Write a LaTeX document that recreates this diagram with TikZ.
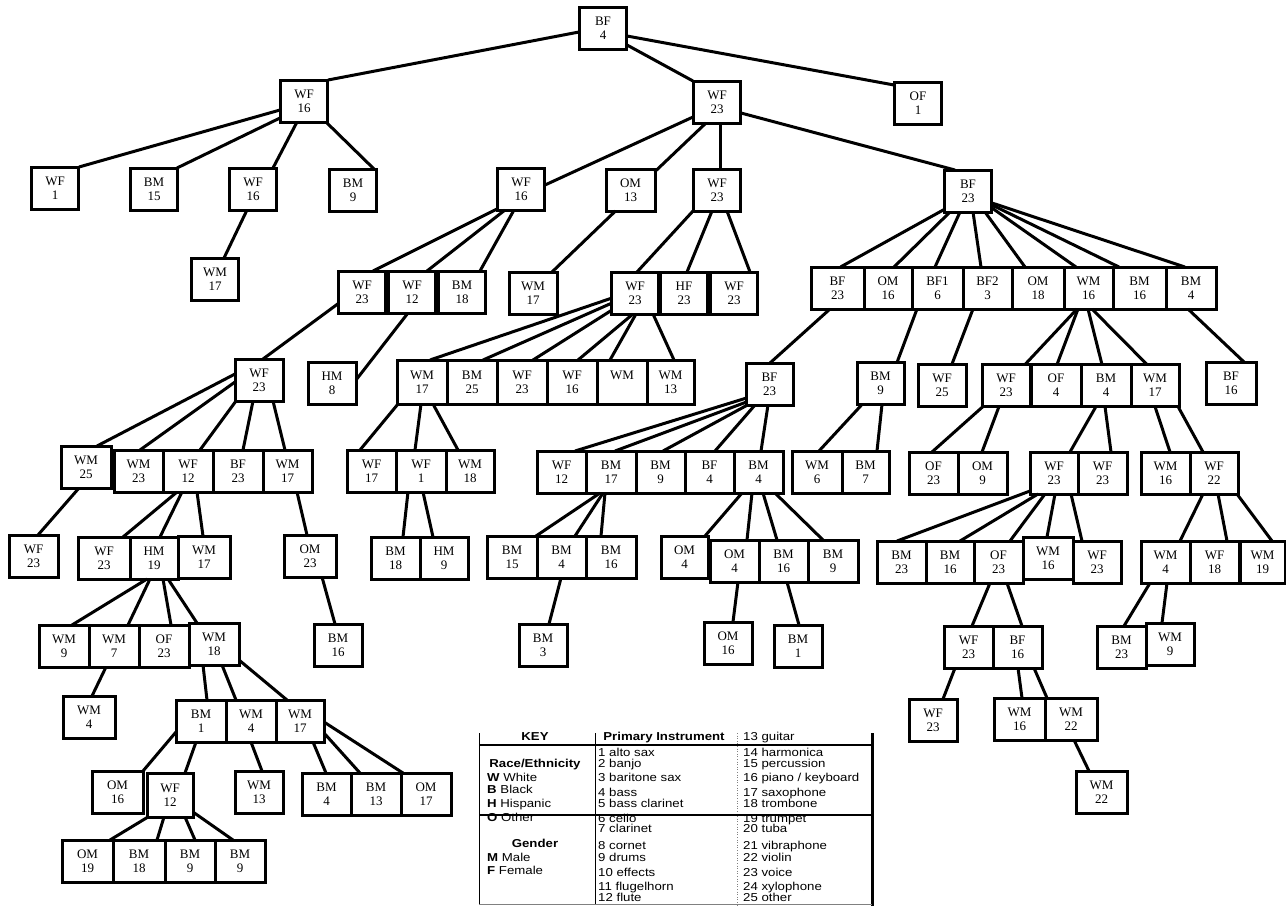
\documentclass[tikz,border=0pt]{standalone}
\usepackage{fontspec}
\setmainfont{Liberation Serif}
\newfontfamily\keyfont[FakeStretch=1.15]{Liberation Sans}
\usetikzlibrary{calc}
\tikzset{
  box/.style={draw, line width=3pt, minimum width=47pt, minimum height=42pt, inner sep=0pt,
    align=center, fill=white, font=\fontsize{13}{14}\selectfont},
  edge/.style={line width=3pt},
  keytxt/.style={anchor=base west, inner sep=0pt, font=\keyfont\fontsize{11.5}{12}\selectfont},
  keyhead/.style={anchor=base, inner sep=0pt, font=\keyfont\bfseries\fontsize{11.5}{12}\selectfont}
}
\newcommand\bx[5][47]{\node[box, minimum width=#1pt] (#2) at (#3) {#4\\#5};}
\newcommand\bxh[5][47]{\node[box, minimum width=#1pt, minimum height=44pt] (#2) at (#3) {#4\\#5};}
\newcommand\E[6]{\draw[edge] ($(#1)+(#2,#3)$) -- ($(#4)+(#5,#6)$);}
\begin{document}
\begin{tikzpicture}[x=1pt,y=-1pt]
\useasboundingbox (0,0) rectangle (1286,906);
% ---------- nodes ----------
\bx{n0}{603,28}{BF}{4}
\bx{a}{304,101}{WF}{16}
\bx{b}{717,102}{WF}{23}
\bx{c}{918,103}{OF}{1}
\bx{a1}{55,188}{WF}{1}
\bx{a2}{154,189}{BM}{15}
\bx{a3}{253,189}{WF}{16}
\bx{a4}{353,190}{BM}{9}
\bx{a3a}{215,279}{WM}{17}
\bx{b1}{521,189}{WF}{16}
\bx[49]{b2}{630.5,190}{OM}{13}
\bx{b3}{717,190}{WF}{23}
\bx{b4}{968,191}{BF}{23}
\bx{b1a}{362,292}{WF}{23}
\bx{b1b}{412,292}{WF}{12}
\bx{b1c}{462,292}{BM}{18}
\bx[48]{b2a}{533,293}{WM}{17}
\bx{b3a}{635,293}{WF}{23}
\bx{b3b}{684,293}{HF}{23}
\bx{b3c}{734,293}{WF}{23}
\bx[53]{b4a}{837.5,288}{BF}{23}
\bx[48]{b4b}{888,288}{OM}{16}
\bx[51]{b4c}{937.5,288}{BF1}{6}
\bx[49]{b4d}{987.5,288}{BF2}{3}
\bx[52]{b4e}{1038,288}{OM}{18}
\bx[49]{b4f}{1088.5,288}{WM}{16}
\bx[53]{b4g}{1139.5,288}{BM}{16}
\bx[50]{b4h}{1191,288}{BM}{4}
% L4
\bx[48]{b1a1}{259,380}{WF}{23}
\bx[48]{b1b1}{332,383}{HM}{8}
\bxh[50]{b3a1}{422,382}{WM}{17}
\bxh[50]{b3a2}{472,382}{BM}{25}
\bxh[50]{b3a3}{522,382}{WF}{23}
\bxh[50]{b3a4}{572,382}{WF}{16}
\bxh[50]{b3a5}{622,382}{WM}{\phantom{1}}
\bxh[47]{b3a6}{670.5,382}{WM}{13}
\bx{b4a1}{769.5,384}{BF}{23}
\bx{b4c1}{880.5,383.5}{BM}{9}
\bx[48]{b4d1}{942,385}{WF}{25}
\bx[48]{b4f1}{1006,385.5}{WF}{23}
\bx[50]{b4f2}{1056,385.5}{OF}{4}
\bx[50]{b4f3}{1106,385.5}{BM}{4}
\bx[48]{b4f4}{1155,385.5}{WM}{17}
\bx[50]{b4h1}{1231,383}{BF}{16}
% L5
\bx[50]{b1a1a}{86,467}{WM}{25}
\bx[49]{b1a1b}{138.5,471}{WM}{23}
\bx[50]{b1a1c}{188,471}{WF}{12}
\bx[50]{b1a1d}{238,471}{BF}{23}
\bx[49]{b1a1e}{287.5,471}{WM}{17}
\bx[49]{b3a1a}{371.5,471}{WF}{17}
\bx[50]{b3a1b}{421,471}{WF}{1}
\bx[48]{b3a1c}{470,471}{WM}{18}
\bx[49]{b4a1a}{561.5,472}{WF}{12}
\bx[50]{b4a1b}{611,472}{BM}{17}
\bx[49]{b4a1c}{660.5,472}{BM}{9}
\bx[49]{b4a1d}{709.5,472}{BF}{4}
\bx[49]{b4a1e}{758.5,472}{BM}{4}
\bx[50]{b4c1a}{817,472}{WM}{6}
\bx[47]{b4c1b}{865.5,472}{BM}{7}
\bx[49]{b4f1a}{933.5,473}{OF}{23}
\bx[49]{b4f1b}{982.5,473}{OM}{9}
\bx[48]{b4f3a}{1054,473}{WF}{23}
\bx[49]{b4f3b}{1102.5,473}{WF}{23}
\bx[49]{b4f4a}{1165.5,473}{WM}{16}
\bx[48]{b4f4b}{1214,473}{WF}{22}
% L6
\bx[49]{b1a1a1}{33.5,556}{WF}{23}
\bx[52]{b1a1c1}{104,558}{WF}{23}
\bx[48]{b1a1c2}{154,558}{HM}{19}
\bx[52]{b1a1c3}{204,557}{WM}{17}
\bx[52]{b1a1e1}{310,556}{OM}{23}
\bx[49]{b3a1b1}{395.5,558}{BM}{18}
\bx[48]{b3a1b2}{444,558}{HM}{9}
\bx[50]{b4a1b1}{512,557}{BM}{15}
\bx[49]{b4a1b2}{561.5,557}{BM}{4}
\bx[50]{b4a1b3}{611,557}{BM}{16}
\bx[47]{b4a1e1}{684.5,557}{OM}{4}
\bx[49]{b4a1e2}{734.5,561}{OM}{4}
\bx[49]{b4a1e3}{783.5,561}{BM}{16}
\bx[50]{b4a1e4}{833,561}{BM}{9}
\bx[49]{b4f3a1}{901.5,562}{BM}{23}
\bx[48]{b4f3a2}{950,562}{BM}{16}
\bx[49]{b4f3a3}{998.5,562}{OF}{23}
\bx[50]{b4f3a4}{1048,558}{WM}{16}
\bx[48]{b4f3a5}{1097,562}{WF}{23}
\bx[49]{b4f4b1}{1165.5,562}{WM}{4}
\bx[49]{b4f4b2}{1214.5,562}{WF}{18}
\bx[45]{b4f4b3}{1262.5,562}{WM}{19}
% L7
\bx[50]{b1a1c2a}{64,646}{WM}{9}
\bx[50]{b1a1c2b}{114,646}{WM}{7}
\bx[50]{b1a1c2c}{164,646}{OF}{23}
\bx[50]{b1a1c2d}{214,644}{WM}{18}
\bx[48]{b1a1e1a}{338,645}{BM}{16}
\bx[48]{b4a1b2a}{543,645}{BM}{3}
\bx[48]{b4a1e2a}{728,643}{OM}{16}
\bx[48]{b4a1e3a}{798,646}{BM}{1}
\bx[49]{b4f3a3a}{968.5,647}{WF}{23}
\bx[49]{b4f3a3b}{1017.5,647}{BF}{16}
\bx[49]{b4f4b1a}{1121.5,647}{BM}{23}
\bx[48]{b4f4b1b}{1170,644}{WM}{9}
% L8
\bx[52]{g1}{89,717}{WM}{4}
\bx[50]{g2}{201,721}{BM}{1}
\bx[50]{g3}{251,721}{WM}{4}
\bx[48]{g4}{300,721}{WM}{17}
\bx[48]{g5}{933,720}{WF}{23}
\bx[51]{g6}{1019.5,719}{WM}{16}
\bx[52]{g7}{1071,719}{WM}{22}
% L9
\bx[51]{d1a}{117.5,792}{OM}{16}
\bxh[46]{d1b}{170,795}{WF}{12}
\bx[48]{d2a}{259,792}{WM}{13}
\bx[49]{d3a}{326.5,794}{BM}{4}
\bx[50]{d3b}{376,794}{BM}{13}
\bx[50]{d3c}{426,794}{OM}{17}
\bx[51]{e1}{1101.5,792}{WM}{22}
% L10
\bx[51]{f1}{87.5,861}{OM}{19}
\bx[52]{f2}{139,861}{BM}{18}
\bx[50]{f3}{190,861}{BM}{9}
\bx[50]{f4}{240,861}{BM}{9}
% ---------- edges ----------
\E{n0}{-24}{4}{a}{24}{-21}
\E{n0}{24}{17}{b}{-24}{-21}
\E{n0}{24}{8}{c}{-24}{-18}
\E{a}{-24}{9}{a1}{24}{-21}
\E{a}{-24}{17}{a2}{23}{-21}
\E{a}{-7}{21}{a3}{20}{-21}
\E{a}{22}{21}{a4}{21}{-21}
\E{a3}{-6}{21}{a3a}{9}{-21}
\E{b}{-24}{15}{b1}{24}{-4}
\E{b}{-11}{21}{b2}{24}{-18}
\E{b}{3}{21}{b3}{3}{-21}
\E{b}{24}{11}{b4}{-13}{-21}
\E{b1}{-24}{20}{b1a}{11}{-21}
\E{b1}{-16}{21}{b1b}{15}{-21}
\E{b1}{-7}{21}{b1c}{18}{-21}
\E{b2}{-15}{21}{b2a}{19}{-21}
\E{b3}{-24}{21}{b3a}{2}{-21}
\E{b3}{-5}{21}{b3b}{3}{-21}
\E{b3}{10}{21}{b3c}{16}{-21}
\E{b4}{-23}{18}{b4a}{3}{-21}
\E{b4}{-18}{21}{b4b}{6}{-21}
\E{b4}{-8}{21}{b4c}{-2.5}{-21}
\E{b4}{5}{21}{b4d}{-6.5}{-21}
\E{b4}{17}{21}{b4e}{-13}{-21}
\E{b4}{24}{17}{b4f}{-12.5}{-21}
\E{b4}{24}{14}{b4g}{-20.5}{-21}
\E{b4}{24}{12}{b4h}{-6}{-21}
\E{b1a}{-23}{11}{b1a1}{4}{-21}
\E{b1b}{-4}{21}{b1b1}{24}{-3}
\E{b3a}{-23}{5}{b3a1}{8}{-22}
\E{b3a}{-23}{10}{b3a2}{11}{-22}
\E{b3a}{-23}{17}{b3a3}{11}{-22}
\E{b3a}{-2}{21}{b3a4}{6}{-22}
\E{b3a}{1}{21}{b3a5}{-12}{-22}
\E{b3a}{18}{21}{b3a6}{3.5}{-22}
\E{b4a}{-7.5}{21}{b4a1}{0.5}{-21}
\E{b4c}{-20.5}{21}{b4c1}{16.5}{-21}
\E{b4d}{-14.5}{21}{b4d1}{10}{-21}
\E{b4f}{-11.5}{21}{b4f1}{19}{-21}
\E{b4f}{-10.5}{21}{b4f2}{1}{-21}
\E{b4f}{-0.5}{21}{b4f3}{-4}{-21}
\E{b4f}{3.5}{21}{b4f4}{-8}{-21}
\E{b4h}{-3}{21}{b4h1}{13}{-21}
% L4 -> L5
\E{b1a1}{-24}{-6}{b1a1a}{11}{-21}
\E{b1a1}{-24}{2}{b1a1b}{1.5}{-21}
\E{b1a1}{-23}{21}{b1a1c}{12}{-21}
\E{b1a1}{-6}{21}{b1a1d}{5}{-21}
\E{b1a1}{14}{21}{b1a1e}{-2.5}{-21}
\E{b3a1}{-24}{22}{b3a1a}{-11.5}{-21}
\E{b3a1}{-1}{22}{b3a1b}{-6}{-21}
\E{b3a1}{11}{22}{b3a1c}{-12}{-21}
\E{b4a1}{-23}{14}{b4a1a}{13.5}{-21}
\E{b4a1}{-23}{18}{b4a1b}{4}{-21}
\E{b4a1}{-22}{21}{b4a1c}{2.5}{-21}
\E{b4a1}{-14.5}{21}{b4a1d}{5.5}{-21}
\E{b4a1}{-1.5}{21}{b4a1e}{2.5}{-21}
\E{b4c1}{-18.5}{21}{b4c1a}{2}{-21}
\E{b4c1}{1.5}{21}{b4c1b}{11.5}{-21}
\E{b4f1}{-23}{21}{b4f1a}{-1.5}{-21}
\E{b4f1}{-7}{21}{b4f1b}{-0.5}{-21}
\E{b4f3}{-10}{21}{b4f3a}{16}{-21}
\E{b4f3}{-1}{21}{b4f3b}{8.5}{-21}
\E{b4f4}{0}{21}{b4f4a}{4.5}{-21}
\E{b4f4}{23}{21}{b4f4b}{-11}{-21}
% L5 -> L6
\E{b1a1a}{-7}{21}{b1a1a1}{4.5}{-21}
\E{b1a1c}{-11}{21}{b1a1c1}{19}{-21}
\E{b1a1c}{-6}{21}{b1a1c2}{6}{-21}
\E{b1a1c}{9}{21}{b1a1c3}{-1}{-21}
\E{b1a1e}{9.5}{21}{b1a1e1}{-3}{-21}
\E{b3a1b}{-13}{21}{b3a1b1}{7.5}{-21}
\E{b3a1b}{2}{21}{b3a1b2}{-11}{-21}
\E{b4a1b}{-11}{21}{b4a1b1}{24}{-21}
\E{b4a1b}{-8}{21}{b4a1b2}{13.5}{-21}
\E{b4a1b}{-6}{21}{b4a1b3}{-10}{-21}
\E{b4a1e}{-16.5}{21}{b4a1e1}{20.5}{-21}
\E{b4a1e}{-6.5}{21}{b4a1e2}{12.5}{-21}
\E{b4a1e}{4.5}{21}{b4a1e3}{-6.5}{-21}
\E{b4a1e}{16.5}{21}{b4a1e4}{-10}{-21}
\E{b4f3a}{-24}{18}{b4f3a1}{-4.5}{-21}
\E{b4f3a}{-16}{21}{b4f3a2}{10}{-21}
\E{b4f3a}{-9}{21}{b4f3a3}{11.5}{-21}
\E{b4f3a}{1}{21}{b4f3a4}{-1}{-21}
\E{b4f3a}{17}{21}{b4f3a5}{-15}{-21}
\E{b4f4b}{-11}{21}{b4f4b1}{14.5}{-21}
\E{b4f4b}{4}{21}{b4f4b2}{12.5}{-21}
\E{b4f4b}{23}{21}{b4f4b3}{9.5}{-21}
% L6 -> L7
\E{b1a1c2}{-7}{21}{b1a1c2a}{8}{-21}
\E{b1a1c2}{-4}{21}{b1a1c2b}{14}{-21}
\E{b1a1c2}{9}{21}{b1a1c2c}{7}{-21}
\E{b1a1c2}{14}{21}{b1a1c2d}{-17}{-21}
\E{b1a1e1}{12}{21}{b1a1e1a}{-3}{-21}
\E{b4a1b2}{-0.5}{21}{b4a1b2a}{6}{-21}
\E{b4a1e2}{3.5}{21}{b4a1e2a}{5}{-21}
\E{b4a1e3}{3.5}{21}{b4a1e3a}{1}{-21}
\E{b4f3a3}{-8.5}{21}{b4f3a3a}{3.5}{-21}
\E{b4f3a3}{8.5}{21}{b4f3a3b}{4.5}{-21}
\E{b4f4b1}{-15.5}{21}{b4f4b1a}{2.5}{-21}
\E{b4f4b1}{1.5}{21}{b4f4b1b}{-8}{-21}
% L7 -> L8
\E{b1a1c2b}{-8}{21}{g1}{3}{-21}
\E{b1a1c2d}{-11}{21}{g2}{6}{-21}
\E{b1a1c2d}{8}{21}{g3}{-15}{-21}
\E{b1a1c2d}{25}{16}{g4}{-13}{-21}
\E{b4f3a3a}{-13.5}{21}{g5}{10}{-21}
\E{b4f3a3b}{0.5}{21}{g6}{2.5}{-21}
\E{b4f3a3b}{16.5}{21}{g7}{-24}{-21}
% L8 -> L9
\E{g2}{-25}{11}{d1a}{25.5}{-21}
\E{g2}{-5}{21}{d1b}{15}{-22}
\E{g3}{0}{21}{d2a}{3}{-21}
\E{g4}{13}{21}{d3a}{-0.5}{-21}
\E{g4}{24}{12}{d3b}{-16}{-21}
\E{g4}{24}{1}{d3c}{-23}{-21}
\E{g7}{3}{21}{e1}{-12.5}{-21}
% L9 -> L10
\E{d1b}{-22}{22}{f1}{22.5}{-21}
\E{d1b}{-6}{22}{f2}{18}{-21}
\E{d1b}{15}{22}{f3}{5}{-21}
\E{d1b}{23}{17}{f4}{-7}{-21}
% ---------- key ----------
\draw[line width=0.7pt] (479,733) -- (479,905);
\draw[line width=0.7pt] (595,733) -- (595,905);
\draw[line width=0.6pt, dotted, gray] (737,733) -- (737,905);
\draw[line width=3pt] (872,733) -- (872,906);
\draw[line width=2.8pt] (479,745) -- (872,745);
\draw[line width=2.8pt] (479,815) -- (872,815);
\draw[line width=0.6pt, gray] (479,904) -- (872,904);
\node[keyhead] (kh1) at (535,740) {KEY};
\node[keyhead] (kh2) at (664,740) {Primary Instrument};
\node[keyhead] (kh3) at (535,767) {Race/Ethnicity};
\node[keyhead] (kh4) at (535,847) {Gender};
\node[keytxt] (kr1) at (487,781) {\textbf{W} White};
\node[keytxt] (kr2) at (487,793) {\textbf{B} Black};
\node[keytxt] (kr3) at (487,807) {\textbf{H} Hispanic};
\node[keytxt] (kr4) at (487,821) {\textbf{O} Other};
\node[keytxt] (kg1) at (487,861) {\textbf{M} Male};
\node[keytxt] (kg2) at (487,874) {\textbf{F} Female};
\node[keytxt] (ki13) at (743,740) {13 guitar};
\foreach \t/\u/\yy [count=\i] in {
  {1 alto sax}/{14 harmonica}/756,
  {2 banjo}/{15 percussion}/767,
  {3 baritone sax}/{16 piano / keyboard}/781,
  {4 bass}/{17 saxophone}/796,
  {5 bass clarinet}/{18 trombone}/807,
  {6 cello}/{19 trumpet}/822,
  {7 clarinet}/{20 tuba}/832,
  {8 cornet}/{21 vibraphone}/849,
  {9 drums}/{22 violin}/861,
  {10 effects}/{23 voice}/876,
  {11 flugelhorn}/{24 xylophone}/890,
  {12 flute}/{25 other}/901}{
  \node[keytxt] (kl\i) at (598,\yy) {\t};
  \node[keytxt] (kq\i) at (743,\yy) {\u};
}
\end{tikzpicture}
\end{document}
